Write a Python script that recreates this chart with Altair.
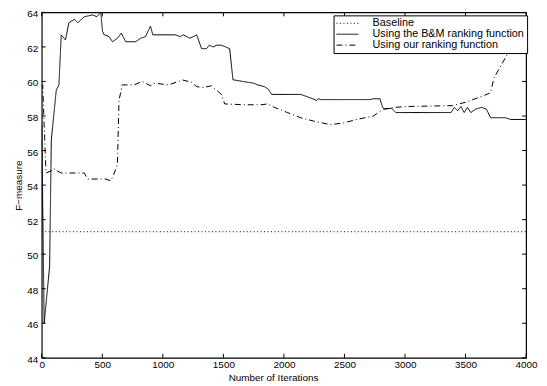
import altair as alt
import pandas as pd

series_names = ["Baseline", "Using the B&M ranking function", "Using our ranking function"]

baseline_iters = [0, 4000]
baseline_vals = [51.3, 51.3]

bm_iters = [0, 20, 65, 79, 120, 142, 161, 196, 224, 270, 297, 352, 420, 455, 488, 502, 516,
            556, 584, 625, 657, 693, 775, 816, 857, 898, 917, 1102, 1143, 1170, 1225, 1279,
            1320, 1361, 1383, 1416, 1443, 1484, 1552, 1579, 1661, 1750, 1784, 1839, 1871,
            1899, 2138, 2220, 2269, 2283, 2307, 2711, 2739, 2793, 2815, 2834, 2889, 2924,
            3380, 3407, 3435, 3462, 3489, 3516, 3543, 3584, 3633, 3672, 3707, 3830, 3871, 4000]
bm_vals = [57.5, 46.0, 49.3, 56.6, 59.5, 59.8, 62.7, 62.4, 63.4, 63.6, 63.4, 63.75, 63.85, 63.75,
           64.0, 62.9, 62.7, 62.6, 62.3, 62.5, 62.8, 62.3, 62.3, 62.5, 62.6, 63.2, 62.7, 62.7,
           62.6, 62.7, 62.5, 62.7, 61.9, 61.9, 62.1, 62.0, 62.1, 62.1, 61.9, 60.1, 60.0, 59.9,
           59.8, 59.7, 59.55, 59.25, 59.25, 59.05, 58.9, 59.0, 58.95, 58.95, 59.0, 59.0, 58.5,
           58.4, 58.45, 58.2, 58.2, 58.5, 58.3, 58.55, 58.2, 58.5, 58.2, 58.4, 58.5, 58.4,
           57.9, 57.9, 57.8, 57.8]

our_iters = [0, 8, 20, 35, 87, 100, 120, 161, 352, 379, 529, 570, 597, 625, 638, 665, 761, 829,
             898, 938, 1047, 1129, 1156, 1238, 1279, 1334, 1402, 1484, 1511, 1675, 1811, 1866,
             1920, 2029, 2138, 2248, 2384, 2493, 2602, 2739, 2820, 2916, 3011, 3393, 3502,
             3639, 3707, 3734, 3775, 3843, 3857, 3940]
our_vals = [59.7, 59.8, 57.5, 54.7, 54.85, 54.95, 54.85, 54.7, 54.7, 54.35, 54.35, 54.25, 54.65,
            55.2, 58.9, 59.8, 59.8, 60.0, 59.75, 59.9, 59.8, 60.0, 60.1, 59.95, 59.7, 59.65,
            59.75, 59.25, 58.7, 58.65, 58.65, 58.7, 58.5, 58.2, 57.9, 57.7, 57.5, 57.6, 57.8,
            58.0, 58.4, 58.5, 58.55, 58.6, 58.8, 59.15, 59.35, 60.2, 60.7, 61.55, 61.75, 63.0]

x_ticks = [0, 500, 1000, 1500, 2000, 2500, 3000, 3500, 4000]
y_ticks = [44, 46, 48, 50, 52, 54, 56, 58, 60, 62, 64]

rows = []
for name, its, vs in zip(series_names, [baseline_iters, bm_iters, our_iters],
                         [baseline_vals, bm_vals, our_vals]):
    for k, (a, b) in enumerate(zip(its, vs)):
        rows.append({"iter": a, "value": b, "series": name, "k": k})
df = pd.DataFrame(rows)

W, H = 488, 348
TICK = 4
FONT = "Liberation Sans"

xscale = alt.Scale(domain=[0, 4000], nice=False, zero=False)
yscale = alt.Scale(domain=[44, 64], nice=False, zero=False)

x_axis = alt.Axis(values=x_ticks, title="Number of Iterations", ticks=False, domain=False,
                  grid=False, labelPadding=2, labelFlush=False, labelOverlap=False, format="d",
                  titleX=233, titleY=23, titleBaseline="alphabetic")
y_axis = alt.Axis(values=y_ticks, title="F\u2212measure", ticks=False, domain=False,
                  grid=False, labelPadding=4, titlePadding=3, labelOverlap=False,
                  labelOffset=1.5, format="d")

lines = alt.Chart(df).mark_line(color="black", strokeWidth=1, clip=True).encode(
    x=alt.X("iter:Q", scale=xscale, axis=x_axis, title="Number of Iterations"),
    y=alt.Y("value:Q", scale=yscale, axis=y_axis, title="F\u2212measure"),
    strokeDash=alt.StrokeDash(
        "series:N",
        scale=alt.Scale(domain=series_names, range=[[1, 2.5], [1, 0], [6, 3, 1, 3]]),
        legend=alt.Legend(title=None, orient="none", legendX=294, legendY=3,
                          strokeColor="black", fillColor="white", padding=2.5,
                          symbolType="M-2.2,0H2.2", symbolSize=100, symbolStrokeWidth=1,
                          symbolOffset=6,
                          symbolStrokeColor="black", symbolFillColor="transparent",
                          labelFont=FONT, labelFontSize=10.9,
                          labelColor="black", labelOffset=19.8, labelLimit=0, rowPadding=-2.8,
                          cornerRadius=0),
    ),
    order="k:Q",
)

tx = pd.DataFrame({"iter": x_ticks})
ty = pd.DataFrame({"value": y_ticks})

bottom = alt.Chart(tx).mark_rule(color="black", strokeWidth=1).encode(
    x=alt.X("iter:Q", scale=xscale, axis=x_axis, title="Number of Iterations"),
    y=alt.value(H), y2=alt.value(H - TICK))
top = alt.Chart(tx).mark_rule(color="black", strokeWidth=1).encode(
    x=alt.X("iter:Q", scale=xscale, axis=x_axis, title="Number of Iterations"),
    y=alt.value(0), y2=alt.value(TICK))
left = alt.Chart(ty).mark_rule(color="black", strokeWidth=1).encode(
    y=alt.Y("value:Q", scale=yscale, axis=y_axis, title="F\u2212measure"),
    x=alt.value(0), x2=alt.value(TICK))
right = alt.Chart(ty).mark_rule(color="black", strokeWidth=1).encode(
    y=alt.Y("value:Q", scale=yscale, axis=y_axis, title="F\u2212measure"),
    x=alt.value(W), x2=alt.value(W - TICK))

chart = alt.layer(lines, bottom, top, left, right).properties(
    width=W, height=H,
    autosize=alt.AutoSizeParams(type="none"),
    padding={"left": 34, "top": 3, "right": 13, "bottom": 26},
).configure_view(
    stroke="black", strokeWidth=1.2
).configure_axis(
    labelFont=FONT, titleFont=FONT, labelFontSize=10, titleFontSize=10,
    labelColor="black", titleColor="black", titleFontWeight="normal"
)

chart.save("out.html", embed_options={"renderer": "svg", "actions": False})
